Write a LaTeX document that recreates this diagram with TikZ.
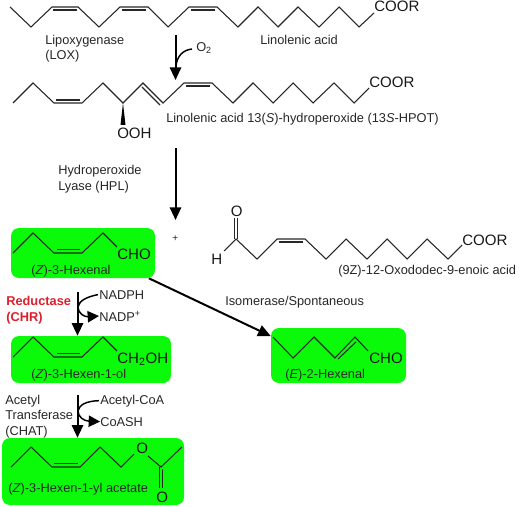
\documentclass[tikz,border=0pt]{standalone}
\usepackage{fontspec}
\setmainfont{Liberation Sans}
\usetikzlibrary{arrows.meta,backgrounds}
\definecolor{boxgreen}{RGB}{10,250,10}
\definecolor{enzred}{RGB}{220,30,45}
\tikzset{
  bond/.style={line width=0.8pt,line join=miter,black!85},
  rxn/.style={line width=1.5pt,-{Triangle[width=8.5pt,length=9.5pt]}},
  side/.style={line width=1.1pt,-{Triangle[width=8.5pt,length=8.5pt]}},
  sideplain/.style={line width=1.1pt},
  greenbox/.style={fill=boxgreen,rounded corners=6pt,inner sep=0pt},
  lab/.style={anchor=base west,inner sep=0pt,font=\fontsize{9.6}{11}\selectfont,black!85},
  grp/.style={anchor=base west,inner sep=0pt,font=\fontsize{11.3}{13}\selectfont,black!90}
}
\begin{document}
\begin{tikzpicture}[x=0.75pt,y=-0.75pt]
\useasboundingbox (0,0) rectangle (520,506);
% green boxes
\node[greenbox,minimum width=108pt,minimum height=37.5pt] (hexenalbox) at (83,253) {};
\node[greenbox,minimum width=120pt,minimum height=35.25pt] (hexenolbox) at (91,359.5) {};
\node[greenbox,minimum width=136.5pt,minimum height=50.25pt] (acetatebox) at (93,471.5) {};
\node[greenbox,minimum width=101.25pt,minimum height=41.25pt] (ehexenalbox) at (338.5,355.5) {};
% linolenic acid
\draw[bond] (10,7)--(31,27)--(52,7)--(78,7)--(99,27)--(120,7)--(148,7)--(168,27)--(189,7)--(217,7)
  --(238,27)--(258,7)--(278,27)--(298,7)--(319,27)--(339,7)--(359,27)--(374,13);
\foreach \a/\b in {53/77,122/146,191/215}{
  \draw[bond] (\a,10)--(\b,10);}
\node[grp] (coorA) at (374,12) {COOR};
\node[lab] (loxlab) at (45,45) {Lipoxygenase};
\node[lab] (loxlabB) at (45,60) {(LOX)};
\node[lab] (linolab) at (260,45) {Linolenic acid};
% 13S-HPOT
\draw[bond] (13,103)--(33,83)--(54,103)--(82,103)--(103,83)--(123,103)--(143,83)--(163,103)--(184,83)--(212,83)
  --(233,103)--(253,83)--(273,103)--(293,83)--(313,103)--(334,83)--(354,103)--(369,88);
\draw[bond] (56,100)--(80,100);
\draw[bond] (186,86)--(210,86);
\draw[bond] (142,87)--(160,105);
\fill[black] (123,103)--(120.5,125)--(125.5,125)--cycle;
\node[grp] (ooh) at (117,138) {OOH};
\node[grp] (coorB) at (369,88) {COOR};
\node[lab] (hpotlab) at (166,122.5) {Linolenic acid 13(\textit{S})-hydroperoxide (13\textit{S}-HPOT)};
\node[lab] (hpllab) at (58,174) {Hydroperoxide};
\node[lab] (hpllabB) at (58,190.5) {Lyase (HPL)};
% (Z)-3-hexenal
\draw[bond] (13,253)--(33,233)--(54,253)--(82,253)--(103,233)--(117,247);
\draw[bond] (57,249.5)--(80,249.5);
\node[grp] (choA) at (117,259) {CHO};
\node[lab] (hexenallab) at (31,274) {(\textit{Z})-3-Hexenal};
\node[lab,font=\fontsize{7.5}{9}\selectfont] (plus) at (172,241) {+};
% 12-oxo acid
\node[grp] (oxoO) at (230.5,216) {O};
\node[grp] (oxoH) at (211,264) {H};
\draw[bond] (234.7,218)--(234.7,239);
\draw[bond] (237.7,218)--(237.7,239);
\draw[bond] (224,251)--(236,239)--(257,259)--(277,239)--(305,239)--(326,259)--(346,239)--(367,259)--(387,239)
  --(407,259)--(427,239)--(448,259)--(462,245);
\draw[bond] (279,242)--(303,242);
\node[grp] (coorC) at (462,245) {COOR};
\node[lab] (oxolab) at (338,274) {(9Z)-12-Oxododec-9-enoic acid};
% (E)-2-hexenal
\draw[bond] (273,337)--(293,358)--(314,337)--(335,358)--(355,337)--(368,351);
\draw[bond] (338,359)--(356,342);
\node[grp] (choB) at (369,363) {CHO};
\node[lab] (ehexlab) at (285,378) {(\textit{E})-2-Hexenal};
\node[lab] (isolab) at (225,305) {Isomerase/Spontaneous};
% (Z)-3-hexen-1-ol
\draw[bond] (13,357)--(33,337)--(54,357)--(82,357)--(103,337)--(117,351);
\draw[bond] (57,353.5)--(80,353.5);
\node[grp] (ch2oh) at (117,363) {CH\textsubscript{2}OH};
\node[lab] (hexenollab) at (31,378) {(\textit{Z})-3-Hexen-1-ol};
\node[lab,text=enzred,font=\fontsize{9.6}{11}\selectfont\bfseries] (chrlab) at (6,305) {Reductase};
\node[lab,text=enzred,font=\fontsize{9.6}{11}\selectfont\bfseries] (chrlabB) at (6,321) {(CHR)};
\node[lab] (nadph) at (99,299) {NADPH};
\node[lab] (nadp) at (99,321) {NADP\textsuperscript{+}};
% (Z)-3-hexen-1-yl acetate
\draw[bond] (11,467)--(31,447)--(52,467)--(80,467)--(100,447)--(121,467)--(134,454);
\draw[bond] (54,463.5)--(78,463.5);
\node[grp] (acO) at (136,453) {O};
\draw[bond] (148,456)--(161,467)--(182,447);
\draw[bond] (159.5,467)--(159.5,488);
\draw[bond] (162.5,469)--(162.5,488);
\node[grp] (acOB) at (156,502) {O};
\node[lab] (acetatelab) at (8,492) {(\textit{Z})-3-Hexen-1-yl acetate};
\node[lab] (chatlab) at (5,404) {Acetyl};
\node[lab] (chatlabB) at (5,419) {Transferase};
\node[lab] (chatlabC) at (5,435) {(CHAT)};
\node[lab] (accoa) at (100,404) {Acetyl-CoA};
\node[lab] (coash) at (100,426) {CoASH};
% reaction arrows
\coordinate (loxtop) at (175.5,35);
\coordinate (loxend) at (175.5,80);
\coordinate (hpltop) at (175.5,148);
\coordinate (hplend) at (175.5,220);
\coordinate (chrtop) at (77.5,292);
\coordinate (chatop) at (77.5,395);
\coordinate (otwo) at (192,49);
\coordinate (otwoend) at (176,66);
\draw[rxn] (loxtop)--(loxend);
\draw[rxn] (hpltop)--(hplend);
\draw[rxn] (chrtop)--(hexenolbox.north -| chrtop);
\draw[rxn] (chatop)--(acetatebox.north -| chatop);
\draw[sideplain] (otwo) .. controls (183,50) and (177,56) .. (otwoend);
\node[lab] (otwolab) at (196,52) {O\textsubscript{2}};
\draw[sideplain] (nadph.west)++(-1,0) .. controls (86,297) and (79,301) .. (78,307);
\draw[side] (78,307) .. controls (78,313) and (84,317) .. (nadp.west);
\draw[sideplain] (accoa.west)++(-1,0) .. controls (86,401) and (79,405) .. (78,411);
\draw[side] (78,411) .. controls (78,417) and (84,421) .. (coash.west);
\begin{scope}[on background layer]
\draw[rxn] (hexenalbox.-21)--(ehexenalbox.164.5);
\end{scope}
\end{tikzpicture}
\end{document}
